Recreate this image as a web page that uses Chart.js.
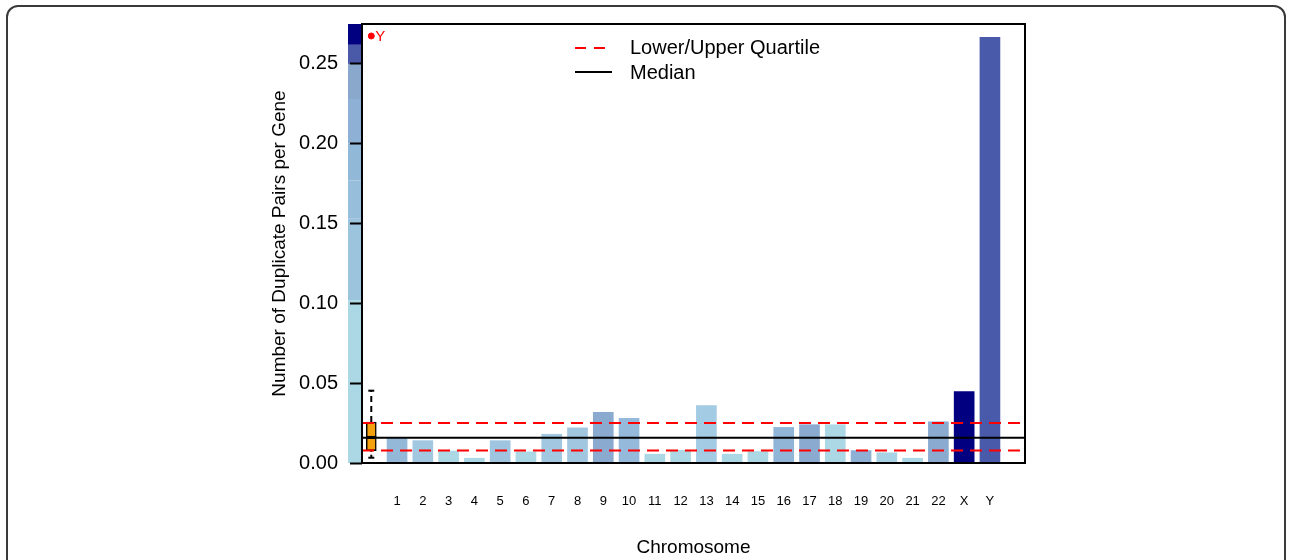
<!DOCTYPE html>
<html>
<head>
<meta charset="utf-8">
<script src="https://cdn.jsdelivr.net/npm/chart.js@4.4.1/dist/chart.umd.min.js"></script>
<style>
  html, body { margin: 0; padding: 0; background: #fff; overflow: hidden; }
  #wrap { position: relative; width: 1289px; height: 560px; }
  #card { position: absolute; left: 6px; top: 5px; width: 1280px; height: 620px;
          border: 2px solid #3a3a3a; border-radius: 12px; box-sizing: border-box; }
  #dupChart { position: absolute; left: 0; top: 0; }
</style>
</head>
<body>
<div id="wrap">
  <div id="card"></div>
  <canvas id="dupChart" width="1289" height="560"></canvas>
</div>
<script>
// chromosome names and duplicate pairs per gene
const chromosomes = ['1','2','3','4','5','6','7','8','9','10','11','12','13','14','15','16','17','18','19','20','21','22','X','Y'];
const pairsPerGene = [0.016, 0.014, 0.0075, 0.003, 0.014, 0.007, 0.018, 0.022, 0.0317, 0.028, 0.0055, 0.008,
                      0.036, 0.0055, 0.0072, 0.0223, 0.024, 0.024, 0.0078, 0.0064, 0.003, 0.0258, 0.0448, 0.2666];
const barColors = ['#94b9d8','#a2c7e0','#acd8e6','#acd8e6','#9fc4df','#acd8e6','#a1c7e1','#a0c6e0','#8aaad0','#95b9da',
                   '#acd8e6','#acd8e6','#a3cbe3','#acd8e6','#acd8e6','#91b5d7','#8aaad0','#acd8e6','#8eb0d4','#a8d2e5',
                   '#acd8e6','#8aaad0','#000080','#4a5aab'];

// box plot summary (whisker low, q1, median, q3, whisker high) and outlier
const boxStats = [0.0033, 0.0078, 0.016, 0.0257, 0.0453];
const outlierValue = [0.2675];
const outlierLabel = ['Y'];

// reference lines
const lowerQuartile = 0.0078;
const upperQuartile = 0.0251;
const medianValue = 0.0158;

// colour key strip at the left edge
const keyBreaks = [0, 0.102, 0.153, 0.177, 0.200, 0.228, 0.250, 0.262, 0.275];
const keyColors = ['#acd8e6','#9cc4dc','#97bedb','#92b8d8','#8eb0d4','#8aa8cc','#4a5aa8','#000080'];

const yTicks = [0, 0.05, 0.10, 0.15, 0.20, 0.25];
const xMin = -0.36, xMax = 25.36;
const FONT = "'Liberation Sans', Arial, sans-serif";

const keyStrip = {
    id: 'keyStrip',
    beforeDraw(chart) {
        const ctx = chart.ctx, y = chart.scales.y, a = chart.chartArea;
        for (let i = 0; i < keyColors.length; i++) {
            const top = y.getPixelForValue(keyBreaks[i + 1]);
            const bot = y.getPixelForValue(keyBreaks[i]);
            ctx.fillStyle = keyColors[i];
            ctx.fillRect(a.left - 14, top, 14, bot - top);
        }
    }
};

const frameAndLegend = {
    id: 'frameAndLegend',
    afterDatasetsDraw(chart) {
        const ctx = chart.ctx, a = chart.chartArea;
        ctx.save();
        ctx.strokeStyle = '#000';
        ctx.lineWidth = 2;
        ctx.strokeRect(a.left, a.top, a.right - a.left, a.bottom - a.top);

        // outlier label
        const px = chart.scales.x.getPixelForValue(0);
        const py = chart.scales.y.getPixelForValue(outlierValue[0]);
        ctx.fillStyle = '#ff0000';
        ctx.font = '15px ' + FONT;
        ctx.textBaseline = 'middle';
        ctx.fillText(outlierLabel[0], px + 4, py + 1);

        // legend
        ctx.font = '20px ' + FONT;
        ctx.fillStyle = '#000';
        ctx.lineWidth = 2;
        ctx.strokeStyle = '#ff0000';
        ctx.setLineDash([11, 8]);
        ctx.beginPath(); ctx.moveTo(575, 48); ctx.lineTo(612, 48); ctx.stroke();
        ctx.setLineDash([]);
        ctx.strokeStyle = '#000';
        ctx.beginPath(); ctx.moveTo(575, 72); ctx.lineTo(612, 72); ctx.stroke();
        ctx.fillText('Lower/Upper Quartile', 630, 48);
        ctx.fillText('Median', 630, 73);
        ctx.restore();
    }
};

const hLine = (v, color, dash) => ({
    type: 'line',
    data: [{ x: xMin, y: v }, { x: xMax, y: v }],
    borderColor: color, borderWidth: 2, borderDash: dash,
    pointRadius: 0, order: 0
});

new Chart(document.getElementById('dupChart'), {
    data: {
        datasets: [
            hLine(upperQuartile, '#ff0000', [12, 7]),
            hLine(lowerQuartile, '#ff0000', [12, 7]),
            hLine(medianValue, '#000000', []),
            {
                type: 'line',
                data: [{ x: 0, y: boxStats[3] }, { x: 0, y: boxStats[4] }],
                borderColor: '#000', borderWidth: 2, borderDash: [6, 4], pointRadius: 0, order: 1
            },
            {
                type: 'line',
                data: [{ x: 0, y: boxStats[0] }, { x: 0, y: boxStats[1] }],
                borderColor: '#000', borderWidth: 2, borderDash: [3, 3], pointRadius: 0, order: 1
            },
            {
                type: 'line',
                data: [{ x: 0, y: boxStats[0] }, { x: 0, y: boxStats[4] }],
                showLine: false, pointStyle: 'line', pointRadius: 3,
                pointBorderColor: '#000', pointBorderWidth: 2, order: 1
            },
            {
                type: 'line',
                data: [{ x: 0, y: boxStats[2] }],
                showLine: false, pointStyle: 'line', pointRadius: 5,
                pointBorderColor: '#000', pointBorderWidth: 3, order: -1
            },
            {
                type: 'line',
                data: [{ x: 0, y: outlierValue[0] }],
                showLine: false, pointRadius: 3, pointBackgroundColor: '#ff0000',
                pointBorderColor: '#ff0000', order: 0
            },
            {
                type: 'bar',
                data: [{ x: 0, y: [boxStats[1], boxStats[3]] }],
                backgroundColor: '#f3a20d', borderColor: '#000', borderWidth: 1.5,
                borderSkipped: false, barThickness: 10, grouped: false, order: 0
            },
            {
                type: 'bar',
                data: chromosomes.map((c, i) => ({ x: i + 1, y: pairsPerGene[i] })),
                backgroundColor: barColors,
                barThickness: 20, grouped: false, order: 2
            }
        ]
    },
    options: {
        responsive: false,
        animation: false,
        layout: { padding: { left: 264, top: 23, right: 264, bottom: 0 } },
        plugins: { legend: { display: false }, tooltip: { enabled: false } },
        scales: {
            x: {
                type: 'linear',
                offset: false,
                min: xMin, max: xMax,
                afterBuildTicks: s => { s.ticks = chromosomes.map((c, i) => ({ value: i + 1 })); },
                afterFit: s => { s.height = 560 - 463; },
                grid: { display: false, drawTicks: false, offset: false },
                border: { display: false },
                ticks: {
                    padding: 31, color: '#000', font: { family: FONT, size: 13 },
                    maxRotation: 0, autoSkip: false,
                    callback: v => chromosomes[v - 1] || ''
                },
                title: { display: true, text: 'Chromosome', color: '#000',
                         font: { family: FONT, size: 19 }, padding: { top: 0, bottom: 1 } }
            },
            y: {
                min: 0, max: 0.275,
                afterBuildTicks: s => { s.ticks = yTicks.map(v => ({ value: v })); },
                afterFit: s => { s.width = 362 - 264; },
                grid: { drawOnChartArea: false, drawTicks: true, tickLength: 12, tickWidth: 2, tickColor: '#000' },
                border: { display: false },
                ticks: {
                    padding: 12, color: '#000', font: { family: FONT, size: 20 },
                    callback: v => v.toFixed(2)
                },
                title: { display: true, text: 'Number of Duplicate Pairs per Gene', color: '#000',
                         font: { family: FONT, size: 19 }, padding: { top: 4, bottom: 4 } }
            }
        }
    },
    plugins: [keyStrip, frameAndLegend]
});
</script>
</body>
</html>
